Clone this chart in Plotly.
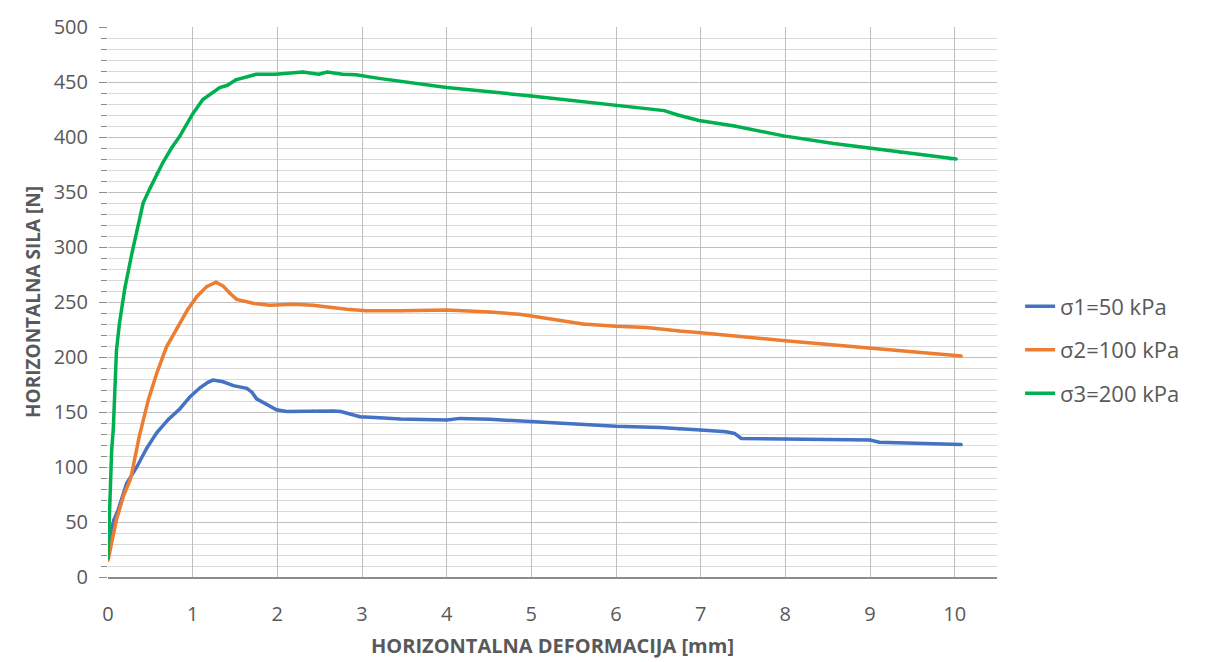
import plotly.graph_objects as go

# sigma1 = 50 kPa
x1 = [0, 0.03, 0.07, 0.12, 0.22, 0.34, 0.457, 0.575, 0.71, 0.85, 0.97, 1.086, 1.18, 1.24, 1.36,
      1.48, 1.64, 1.7, 1.755, 1.87, 1.99, 2.11, 2.42, 2.66, 2.75, 2.82, 2.975, 3.21, 3.45, 4.0,
      4.16, 4.51, 5.0, 5.57, 6.0, 6.52, 6.75, 7.0, 7.3, 7.4, 7.48, 8.0, 9.0, 9.11, 10.08]
y1 = [17, 40, 52, 61, 85, 100, 117, 131, 143, 153, 164, 172, 177, 179, 177.5,
      174, 171.5, 168, 162, 157, 152, 150.5, 151, 151, 150.5, 148.8, 145.7, 144.8, 143.6, 142.7,
      144.2, 143.3, 141.2, 138.8, 137, 136, 134.5, 133.6, 132, 130.5, 126, 125.5, 124.5, 122.5, 120.5]

# sigma2 = 100 kPa
x2 = [0, 0.05, 0.1, 0.18, 0.26, 0.28, 0.37, 0.476, 0.575, 0.69, 0.81, 0.94, 1.05, 1.165, 1.275,
      1.36, 1.44, 1.52, 1.715, 1.91, 2.19, 2.42, 2.82, 3.05, 3.45, 4.0, 4.51, 4.86, 5.06, 5.34,
      5.61, 6.0, 6.36, 6.75, 7.0, 8.0, 9.0, 10.08]
y2 = [15, 35, 52, 73, 88, 94, 128, 161, 185, 209, 226, 243, 255, 264, 268,
      264.5, 258, 252.4, 248.8, 247, 248, 247, 243.4, 242, 242, 242.7, 241, 238.8, 236.6, 233,
      230, 228, 226.9, 223.6, 222, 214.8, 208, 201]

# sigma3 = 200 kPa
x3 = [0, 0.02, 0.043, 0.063, 0.1, 0.134, 0.2, 0.29, 0.415, 0.5, 0.58, 0.65, 0.75, 0.85, 1.0,
      1.12, 1.32, 1.41, 1.51, 1.75, 1.98, 2.3, 2.49, 2.59, 2.77, 2.93, 3.2, 4.0, 5.0, 6.0,
      6.57, 6.73, 6.98, 7.4, 7.98, 8.57, 8.98, 9.36, 9.95, 10.02]
y3 = [17, 70, 115, 135, 206, 230, 263, 297, 340, 354, 367, 377, 390, 401, 421,
      434, 445, 447, 452, 457, 457, 459, 457, 459, 457, 456.5, 453.3, 445, 437.3, 428.5,
      424, 420, 415, 410, 401, 394, 390, 386, 380, 380]

names = ["σ1=50 kPa", "σ2=100 kPa", "σ3=200 kPa"]
colors = ["#4472C4", "#ED7D31", "#00B050"]

FONT = "Open Sans"
TXT = "#595959"

fig = go.Figure()
for i, (xs, ys) in enumerate([(x1, y1), (x2, y2), (x3, y3)]):
    fig.add_trace(go.Scatter(
        x=xs, y=ys, name=names[i], mode="lines+markers",
        line=dict(color=colors[i], width=3.5),
        marker=dict(color=colors[i], size=3),
        legendgroup=f"g{i}",
    ))

# page body has an 8px margin, so offsets compensate for it
fig.update_layout(
    width=1211, height=662,
    margin=dict(l=100, r=222, t=19, b=93, autoexpand=False),
    paper_bgcolor="white", plot_bgcolor="white",
    font=dict(family=FONT, color=TXT, size=20),
    legend=dict(x=1.026, y=0.413, xanchor="left", yanchor="middle",
                font=dict(size=22, color=TXT), tracegroupgap=12,
                bgcolor="rgba(0,0,0,0)"),
    xaxis=dict(
        range=[0, 10.5], dtick=1, tick0=0,
        showgrid=True, gridcolor="#bfbfbf", gridwidth=1.3,
        showline=True, linecolor="#8c8c8c", linewidth=1.5,
        ticks="", ticklabelstandoff=18,
        zeroline=False,
        tickfont=dict(size=20, color=TXT),
        title=dict(text="<b>HORIZONTALNA DEFORMACIJA [mm]</b>", font=dict(size=20, color=TXT), standoff=13),
    ),
    yaxis=dict(
        range=[0, 500], dtick=50, tick0=0,
        showgrid=True, gridcolor="#bfbfbf", gridwidth=1.3,
        showline=False, zeroline=False,
        ticks="outside", ticklen=8, tickcolor="#8c8c8c", tickwidth=1.3,
        ticklabelstandoff=7,
        tickfont=dict(size=20, color=TXT),
        minor=dict(dtick=10, showgrid=True, gridcolor="#d9d9d9", gridwidth=1.3,
                   ticks="outside", ticklen=6, tickcolor="#8c8c8c", tickwidth=1.3),
        title=dict(text="<b>HORIZONTALNA SILA [N]</b>", font=dict(size=19, color=TXT), standoff=8),
    ),
    shapes=[dict(type="rect", xref="paper", yref="paper",
                 x0=(6 - 108) / 889, x1=(1215 - 108) / 889,
                 y0=(577 - 670) / 550, y1=(577 - 7) / 550,
                 line=dict(color="#d9d9d9", width=1.3), fillcolor="rgba(0,0,0,0)", layer="above")],
)

fig.write_html("out.html")
